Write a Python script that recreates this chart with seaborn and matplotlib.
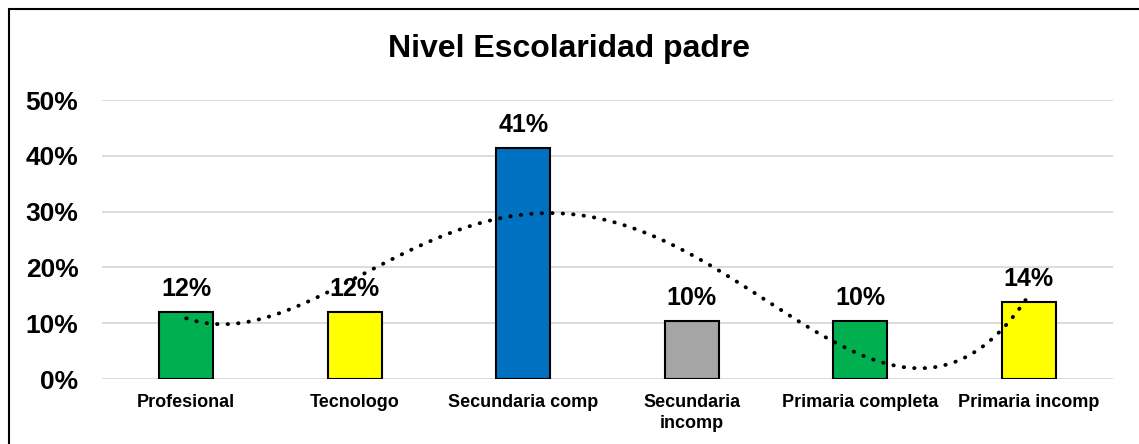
import numpy as np
import pandas as pd
import seaborn as sns
import matplotlib.pyplot as plt
from matplotlib.patches import Rectangle

categorias = ["Profesional", "Tecnologo", "Secundaria comp", "Secundaria\nincomp",
              "Primaria completa", "Primaria incomp"]
porcentajes = [0.1207, 0.1207, 0.4138, 0.1034, 0.1034, 0.1379]
colores = ["#00B050", "#FFFF00", "#0070C0", "#A5A5A5", "#00B050", "#FFFF00"]
yticks = [0, 0.1, 0.2, 0.3, 0.4, 0.5]

sns.set_theme(style="white")
plt.rcParams["font.family"] = ["Liberation Sans", "DejaVu Sans"]
plt.rcParams["font.weight"] = "bold"
plt.rcParams["text.color"] = "black"
plt.rcParams["xtick.color"] = "black"
plt.rcParams["ytick.color"] = "black"

df = pd.DataFrame({"cat": categorias, "pct": porcentajes})

W, H = 1139, 444
fig = plt.figure(figsize=(W / 100, H / 100), dpi=100)
ax = fig.add_axes([102 / W, 1 - 379 / H, (1113 - 102) / W, (379 - 100) / H])

sns.barplot(data=df, x="cat", y="pct", hue="cat", palette=colores, legend=False,
            saturation=1, width=0.32, edgecolor="black", linewidth=1.5, ax=ax, zorder=3)

for c in ax.containers:
    ax.bar_label(c, labels=[f"{v * 100:.0f}%" for v in c.datavalues], padding=8,
                 fontsize=18, fontweight="bold", color="black")

# linea de tendencia polinomica (orden 4) como en excel
xs = np.arange(len(porcentajes))
coef = np.polyfit(xs, porcentajes, 4)
xx = np.linspace(0, len(porcentajes) - 1, 300)
ax.plot(xx, np.polyval(coef, xx), color="black", lw=2.8, linestyle=(0, (0.1, 2.6)),
        dash_capstyle="round", zorder=4)

ax.set_ylim(0, 0.5)
ax.set_xlim(-0.5, len(categorias) - 0.5)
ax.set_yticks(yticks)
ax.set_yticklabels([f"{int(t * 100)}%" for t in yticks], fontsize=19, fontweight="bold")
ax.tick_params(axis="y", length=0, pad=17)
ax.tick_params(axis="x", length=0, pad=11, labelsize=13)
for lbl in ax.get_xticklabels():
    lbl.set_fontweight("bold")
    lbl.set_linespacing(1.25)
ax.set_xlabel("")
ax.set_ylabel("")
ax.grid(axis="y", color="#D9D9D9", lw=1.3, zorder=0)
ax.set_axisbelow(True)
for s in ax.spines.values():
    s.set_visible(False)

fig.text(0.5, 1 - 49 / H, "Nivel Escolaridad padre", ha="center", va="center",
         fontsize=23, fontweight="bold")

fig.patches.append(Rectangle((8.5 / W, -0.1), 1.2, 1 - 9.5 / H + 0.1, transform=fig.transFigure,
                             fill=False, edgecolor="black", lw=1.5))

fig.savefig("out.png", dpi=100)
